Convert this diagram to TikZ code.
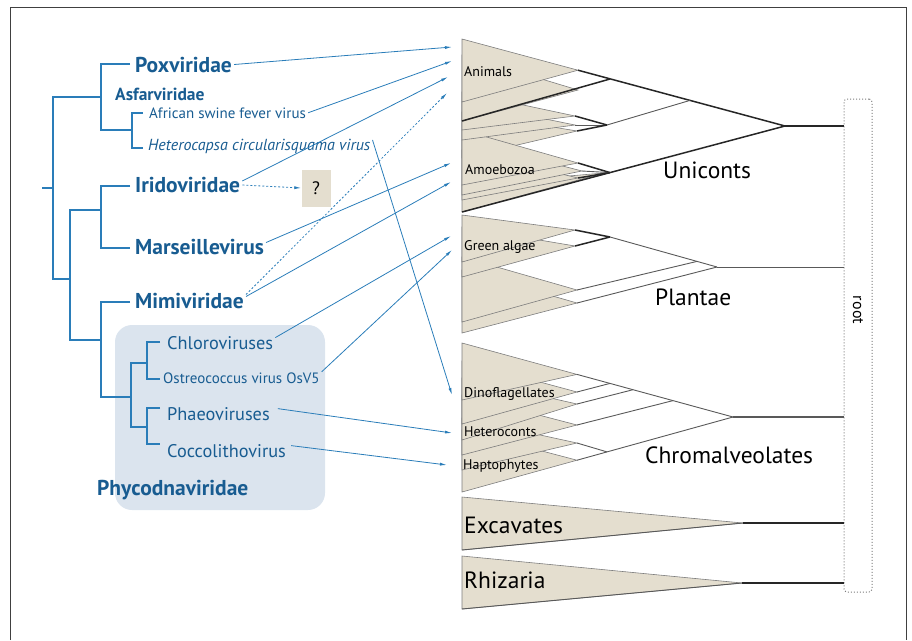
\documentclass[tikz,border=0pt]{standalone}
\usepackage{fontspec}
\setmainfont{PT Sans}
\usetikzlibrary{arrows.meta}
\definecolor{virblue}{RGB}{24,92,145}
\definecolor{linkblue}{RGB}{42,125,185}
\definecolor{phycobox}{RGB}{219,228,238}
\definecolor{cladefill}{RGB}{228,222,207}
\definecolor{edgegray}{RGB}{125,125,125}

\begin{document}
\begin{tikzpicture}[x=1pt, y=-1pt,
    tree/.style={draw=linkblue, line width=1.5pt},
    link/.style={draw=linkblue, line width=0.8pt, -{Latex[length=7pt,width=3pt]}},
    guess/.style={link, dash pattern=on 2pt off 2pt},
    family/.style={anchor=base west, inner sep=2pt, text=virblue, font=\fontsize{21.5}{25}\selectfont\bfseries},
    member/.style={anchor=base west, inner sep=2pt, text=virblue, font=\fontsize{18.3}{22}\selectfont},
    small/.style={anchor=base west, inner sep=2pt, text=virblue, font=\fontsize{15}{18}\selectfont},
    clade/.style={fill=cladefill, draw=edgegray, line width=0.6pt},
    branch/.style={draw=black!85, line width=1.5pt},
    twig/.style={draw=black!65, line width=0.9pt},
    group/.style={anchor=base west, inner sep=0pt, font=\fontsize{23.5}{28}\selectfont},
    taxon/.style={anchor=base west, inner sep=0pt, font=\fontsize{14}{17}\selectfont}
  ]
  \useasboundingbox (0,0) rectangle (912,640);
  \draw[black!75, line width=1pt] (10,640) -- (10,7) -- (906,7) -- (906,640);

  % Phycodnaviridae background
  \fill[phycobox, rounded corners=17pt] (115,325) rectangle (325,510);

  % virus tree
  \draw[tree] (42,188) -- (53,188);
  \draw[tree] (101,97) -| (53,279) -- (70,279);
  \draw[tree] (130,64) -| (101,130) -- (132,130);
  \draw[tree] (143,113) -| (132,148) -- (143,148);
  \draw[tree] (101,210) -| (70,340) -- (101,340);
  \draw[tree] (130,186) -| (101,248) -- (130,248);
  \draw[tree] (130,302) -| (101,397) -- (131,397);
  \draw[tree] (147,363) -| (131,427) -- (147,427);
  \draw[tree] (160,342) -| (147,379) -- (160,379);
  \draw[tree] (160,408) -| (147,444) -- (160,444);

  \node[family] (pox) at (133,72) {Poxviridae};
  \node[family, font=\fontsize{17.5}{21}\selectfont\bfseries] (asf) at (113,100.5) {Asfarviridae};
  \node[small] (asfv) at (147,118) {African swine fever virus};
  \node[small, font=\fontsize{16}{19}\selectfont\itshape] (hcv) at (146,150) {Heterocapsa circularisquama virus};
  \node[family] (irido) at (133,192.5) {Iridoviridae};
  \node[family] (mars) at (133,254) {Marseillevirus};
  \node[family] (mimi) at (133,308) {Mimiviridae};
  \node[member] (chloro) at (165,349) {Chloroviruses};
  \node[small] (ostreo) at (161,383) {Ostreococcus virus OsV5};
  \node[member] (phaeo) at (165,420) {Phaeoviruses};
  \node[member] (cocco) at (165,457) {Coccolithovirus};
  \node[family] (phyco) at (95,495) {Phycodnaviridae};
  \node[fill=cladefill, minimum width=29pt, minimum height=37pt, inner sep=0pt,
        font=\fontsize{18}{22}\selectfont] (quest) at (316,188) {?};

  % Uniconts
  \filldraw[clade] (462,112) -- (577,131) -- (462,158) -- cycle;
  \filldraw[clade] (462,185) -- (604,173) -- (462,212) -- cycle;
  \filldraw[clade] (462,150) -- (578,178) -- (462,200) -- cycle;
  \filldraw[clade] (462,140) -- (582,171) -- (462,195) -- cycle;
  \filldraw[clade] (462,130) -- (578,163) -- (462,185) -- cycle;
  \filldraw[clade] (462,102) -- (575,125) -- (462,140) -- cycle;
  \filldraw[clade] (462,92) -- (575,116) -- (462,130) -- cycle;
  \filldraw[clade] (462,55) -- (578,90) -- (462,121) -- cycle;
  \filldraw[clade] (462,39) -- (578,70.2) -- (462,102) -- cycle;

  % Plantae
  \filldraw[clade] (462,270) -- (577,303) -- (462,333) -- cycle;
  \filldraw[clade] (462,257) -- (577,290) -- (462,322) -- cycle;
  \filldraw[clade] (462,227) -- (575,246) -- (462,277) -- cycle;
  \filldraw[clade] (462,215) -- (575,230) -- (462,262) -- cycle;

  % Chromalveolates
  \filldraw[clade] (462,430) -- (577,460.2) -- (462,492) -- cycle;
  \filldraw[clade] (462,418) -- (577,443) -- (462,470) -- cycle;
  \filldraw[clade] (462,395) -- (577,425) -- (462,455) -- cycle;
  \filldraw[clade] (462,378) -- (577,404) -- (462,440) -- cycle;
  \filldraw[clade] (462,361) -- (577,392) -- (462,424) -- cycle;
  \filldraw[clade] (462,343) -- (577,374.4) -- (462,400) -- cycle;

  % Excavates and Rhizaria
  \filldraw[clade] (462,497) -- (743,523) -- (462,550) -- cycle;
  \filldraw[clade] (462,556) -- (742,583) -- (462,609) -- cycle;
  \draw[twig] (462,550) -- (743,523);
  \draw[twig] (462,609) -- (742,583);

  \node[draw=edgegray, dotted, line width=1pt, rounded corners=3pt, minimum width=28pt,
        minimum height=493pt, inner sep=0pt] (root) at (858,345.5) {};
  \node[rotate=-90, font=\fontsize{16}{19}\selectfont] (rootlabel) at (858,310) {root};

  % eukaryote branches
  \coordinate (nU) at (785,126);
  \coordinate (nA) at (610,79);
  \coordinate (nB) at (607,125);
  \coordinate (nD) at (690,100.4);
  \coordinate (nE) at (610,172.6);
  \draw[branch] (578,70.2) -- (nU);
  \draw[branch] (462,121) -- (nA);
  \draw[branch] (575,116) -- (nB);
  \draw[twig] (575,125) -- (nB);
  \draw[branch] (577,131) -- (nB);
  \draw[twig] (nB) -- (nD);
  \draw[branch] (462,212) -- (nU);
  \draw[branch] (578,163) -- (nE);
  \draw[twig] (582,171) -- (nE);
  \draw[branch] (578,178) -- (nE);

  \coordinate (nG) at (610,237);
  \coordinate (nQ) at (697,261.4);
  \coordinate (nP) at (717,267);
  \draw[branch] (575,230) -- (nG);
  \draw[branch] (575,246) -- (nG);
  \draw[twig] (nG) -- (nP);
  \draw[twig] (577,290) -- (nQ);
  \draw[twig] (577,303) -- (nP);

  \coordinate (nC) at (733,417);
  \coordinate (nC1) at (610,383.4);
  \coordinate (nC2) at (633,389.7);
  \coordinate (nC3) at (673,400.6);
  \coordinate (nC4) at (607,451.9);
  \draw[twig] (577,374.4) -- (nC);
  \draw[twig] (577,392) -- (nC1);
  \draw[twig] (577,404) -- (nC2);
  \draw[twig] (577,425) -- (nC3);
  \draw[twig] (577,443) -- (nC4);
  \draw[twig] (577,460.2) -- (nC);

  \coordinate (nX) at (743,523);
  \coordinate (nR) at (742,583);
  \draw[branch] (nU) -- (nU -| root.west);
  \draw[twig] (nP) -- (nP -| root.west);
  \draw[twig, line width=1.1pt] (nC) -- (nC -| root.west);
  \draw[branch] (nX) -- (nX -| root.west);
  \draw[branch] (nR) -- (nR -| root.west);

  \node[taxon] (animals) at (464,76) {Animals};
  \node[taxon] (amoebo) at (465,174) {Amoebozoa};
  \node[taxon] (green) at (464,250) {Green algae};
  \node[taxon] (dino) at (464,397) {Dinoflagellates};
  \node[taxon] (hetero) at (464,436) {Heteroconts};
  \node[taxon] (hapto) at (463,469) {Haptophytes};
  \node[group] (unic) at (663,178) {Uniconts};
  \node[group] (plant) at (655,305) {Plantae};
  \node[group] (chrom) at (645,463) {Chromalveolates};
  \node[group] (excav) at (464,533) {Excavates};
  \node[group] (rhiz) at (464,588) {Rhizaria};

  % links from viruses to hosts
  \coordinate (tPox) at (452,47);
  \coordinate (tAsf) at (452,61);
  \coordinate (tIri) at (448,77);
  \coordinate (tMimD) at (447,93);
  \coordinate (tMar) at (451,163);
  \coordinate (tMim) at (451,182);
  \coordinate (tChl) at (451,236);
  \coordinate (tOst) at (452,250);
  \coordinate (tHcv) at (452,395);
  \coordinate (tPha) at (452,433);
  \coordinate (tCoc) at (447,465);
  \draw[link] (pox.east) -- (tPox);
  \draw[link] (asfv.east) -- (tAsf);
  \draw[link] ([yshift=4pt]irido.east) -- (tIri);
  \draw[guess] (irido.east) -- (quest.west);
  \draw[guess] ([yshift=6pt]mimi.east) -- (tMimD);
  \draw[link] ([yshift=4pt]mars.east) -- (tMar);
  \draw[link] ([yshift=4pt]mimi.east) -- (tMim);
  \draw[link] ([yshift=6pt]hcv.east) -- (tHcv);
  \draw[link] ([yshift=5pt]chloro.east) -- (tChl);
  \draw[link] ([yshift=6pt]ostreo.east) -- (tOst);
  \draw[link] ([xshift=6pt,yshift=5pt]phaeo.east) -- (tPha);
  \draw[link] ([xshift=3pt,yshift=5pt]cocco.east) -- (tCoc);
\end{tikzpicture}
\end{document}
